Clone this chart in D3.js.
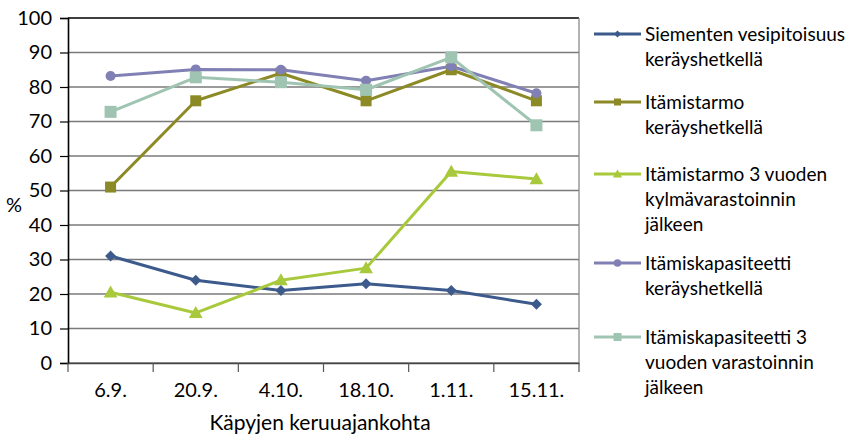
<!DOCTYPE html>
<html><head><meta charset="utf-8">
<script src="https://cdn.jsdelivr.net/npm/d3@7"></script>
<style>body{margin:0;background:#fff;} svg{display:block;font-family:Lato, "Open Sans", sans-serif;}</style>
</head><body>
<svg id="c" width="858" height="434"></svg>
<script>
const categories = ["6.9.", "20.9.", "4.10.", "18.10.", "1.11.", "15.11."];
const yTicks = [0, 10, 20, 30, 40, 50, 60, 70, 80, 90, 100];
const vesipitoisuus = [31, 24, 21, 23, 21, 17];
const itamistarmo = [51, 76, 84, 76, 85, 76];
const itamistarmo3v = [20.5, 14.5, 24, 27.5, 55.5, 53.3];
const itamiskapasiteetti = [83.2, 85.1, 85, 81.8, 86, 78.2];
const itamiskapasiteetti3v = [72.8, 82.8, 81.4, 79.2, 88.6, 68.9];
const seriesNames = [
  ["Siementen vesipitoisuus", "keräyshetkellä"],
  ["Itämistarmo", "keräyshetkellä"],
  ["Itämistarmo 3 vuoden", "kylmävarastoinnin", "jälkeen"],
  ["Itämiskapasiteetti", "keräyshetkellä"],
  ["Itämiskapasiteetti 3", "vuoden varastoinnin", "jälkeen"]
];
const seriesValues = [vesipitoisuus, itamistarmo, itamistarmo3v, itamiskapasiteetti, itamiskapasiteetti3v];
const colors = ["#3C5A8C", "#8C8A26", "#A8C93C", "#8080B4", "#A0C4B2"];
const markers = ["diamond", "square", "triangle", "circle", "square"];
const xTitle = "Käpyjen keruuajankohta";
const yTitle = "%";

const svg = d3.select("#c");
const L = 68, R = 579, T = 18, B = 363;
const x = d3.scaleBand().domain(categories).range([L, R]);
const y = d3.scaleLinear().domain([0, 100]).range([B, T]);

// gridlines
svg.append("g").selectAll("line").data(yTicks).join("line")
  .attr("x1", L).attr("x2", R)
  .attr("y1", d => y(d)).attr("y2", d => y(d))
  .attr("stroke", d => d === 100 ? "#000" : "#7a7a7a").attr("stroke-width", 1.4);
// right border
svg.append("line").attr("x1", R).attr("x2", R).attr("y1", T).attr("y2", B)
  .attr("stroke", "#8a8a8a").attr("stroke-width", 1.3);

// y axis
const yAxis = svg.append("g").attr("transform", `translate(${L},0)`)
  .call(d3.axisLeft(y).tickValues(yTicks).tickSize(8).tickPadding(8));
yAxis.select(".domain").attr("stroke", "#000").attr("stroke-width", 1.6);
yAxis.selectAll(".tick line").attr("stroke", "#000").attr("stroke-width", 1.2);
yAxis.selectAll("text").attr("font-size", 20).attr("fill", "#000").attr("font-family", "Lato");

// x axis
const xAxis = svg.append("g").attr("transform", `translate(0,${B})`)
  .call(d3.axisBottom(x).tickSize(0).tickPadding(20));
xAxis.select(".domain").attr("stroke", "#444").attr("stroke-width", 1.4);
xAxis.selectAll("text").attr("font-size", 20).attr("fill", "#000").attr("font-family", "Lato");
const bounds = categories.map(c => x(c)).concat([R]);
xAxis.append("g").selectAll("line").data(bounds).join("line")
  .attr("x1", d => d).attr("x2", d => d).attr("y1", 0).attr("y2", 9)
  .attr("stroke", "#555").attr("stroke-width", 1.2);

// titles
svg.append("text").attr("x", 320).attr("y", 430).attr("text-anchor", "middle")
  .attr("font-size", 21).attr("fill", "#000").text(xTitle);
svg.append("text").attr("x", 14).attr("y", 212).attr("text-anchor", "middle")
  .attr("font-size", 20).attr("fill", "#000").text(yTitle);

function drawMarker(g, type, cx, cy, color, s) {
  if (type === "diamond") {
    g.append("path").attr("d", `M${cx},${cy - s}L${cx + s},${cy}L${cx},${cy + s}L${cx - s},${cy}Z`).attr("fill", color);
  } else if (type === "square") {
    g.append("rect").attr("x", cx - s).attr("y", cy - s).attr("width", 2 * s).attr("height", 2 * s).attr("fill", color);
  } else if (type === "triangle") {
    g.append("path").attr("d", `M${cx},${cy - s * 1.15}L${cx + s * 1.15},${cy + s * 0.85}L${cx - s * 1.15},${cy + s * 0.85}Z`).attr("fill", color);
  } else {
    g.append("circle").attr("cx", cx).attr("cy", cy).attr("r", s).attr("fill", color);
  }
}

const line = d3.line().x((d, i) => x(categories[i]) + x.bandwidth() / 2).y(d => y(d));
const markerSize = [5.5, 5.5, 6, 5, 6];
seriesValues.forEach((vals, k) => {
  const g = svg.append("g");
  g.append("path").datum(vals).attr("d", line).attr("fill", "none")
    .attr("stroke", colors[k]).attr("stroke-width", 3).attr("stroke-linejoin", "round");
  vals.forEach((v, i) => drawMarker(g, markers[k], x(categories[i]) + x.bandwidth() / 2, y(v), colors[k], markerSize[k]));
});

// legend
const legendY = [34, 102, 174, 263, 337];
const legendMS = [3.5, 3.5, 4, 3.8, 4];
seriesNames.forEach((lines, k) => {
  const g = svg.append("g");
  const ly = legendY[k];
  g.append("line").attr("x1", 594).attr("x2", 641).attr("y1", ly).attr("y2", ly)
    .attr("stroke", colors[k]).attr("stroke-width", 3);
  drawMarker(g, markers[k], 617.5, ly, colors[k], legendMS[k]);
  lines.forEach((t, j) => {
    g.append("text").attr("x", 645).attr("y", ly + 6.5 + j * 25)
      .attr("font-size", 19).attr("fill", "#000").text(t);
  });
});
</script>
</body></html>
